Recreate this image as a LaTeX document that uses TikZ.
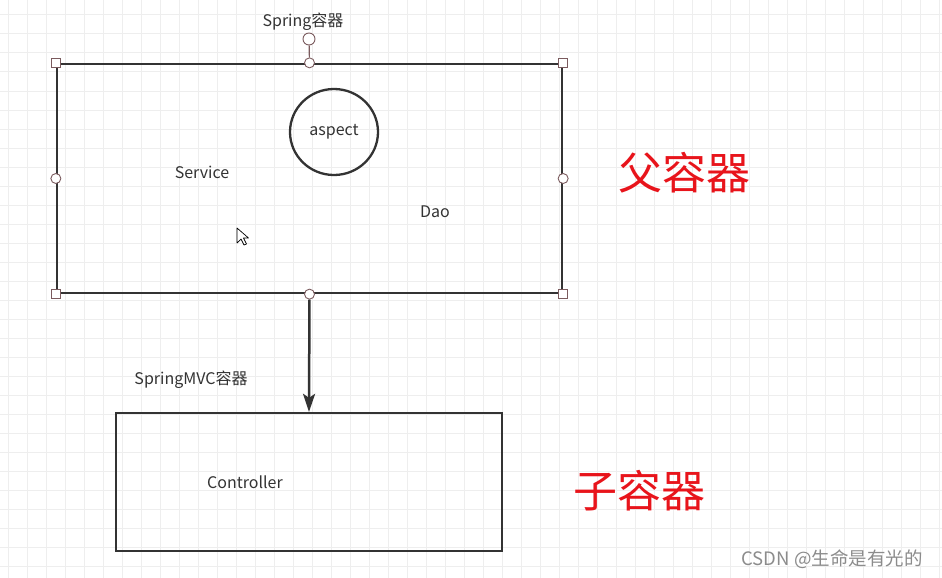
\documentclass[tikz,border=0pt]{standalone}
\usepackage{fontspec}
\setmainfont{Noto Sans CJK SC}
\usetikzlibrary{arrows.meta, shapes.geometric}

\definecolor{gridgray}{HTML}{EEEEEE}
\definecolor{boxline}{HTML}{333333}
\definecolor{handle}{HTML}{7B5B5E}
\definecolor{bigred}{HTML}{E8141B}
\definecolor{markgray}{HTML}{8C8C8C}

\tikzset{
  box/.style={draw=boxline, line width=2.3, fill=none, inner sep=0pt},
  handlesq/.style={draw=handle, fill=white, minimum size=9.5, inner sep=0pt, line width=0.9},
  handlecirc/.style={circle, draw=handle, fill=white, minimum size=10, inner sep=0pt, line width=0.9},
  lbl/.style={text=boxline, font=\fontsize{16}{19}\selectfont},
  bigtxt/.style={text=bigred, font=\fontsize{44}{47}\selectfont},
}

\begin{document}
\begin{tikzpicture}[x=1pt, y=-1pt]
\useasboundingbox[fill=white] (0,0) rectangle (942,578);
% background grid
\foreach \gx in {8,27,...,942} \draw[gridgray, line width=1] (\gx,0) -- (\gx,578);
\foreach \gy in {15,34,...,578} \draw[gridgray, line width=1] (0,\gy) -- (942,\gy);

% parent container
\node[box, minimum width=505, minimum height=229] (spring) at (309.5,178.5) {};
\node[lbl] (springlbl) at (303,22) {Spring容器};
\node[ellipse, draw=boxline, line width=2.3, minimum width=88, minimum height=86, lbl] (aspect) at (334,132) {aspect};
\node[lbl] (service) at (202,172) {Service};
\node[lbl] (dao) at (435,212) {Dao};

% child container
\node[box, minimum width=386, minimum height=138] (mvc) at (309,482) {};
\node[lbl] (mvclbl) at (191,380) {SpringMVC容器};
\node[lbl] (controller) at (245,482) {Controller};

% selection handles
\node[handlecirc, minimum size=12] (rot) at (309,39) {};
\node[handlecirc] (ntop) at (spring.north) {};
\draw[handle, line width=1.2] (rot) -- (ntop);
\node[handlesq] (hnw) at (spring.north west) {};
\node[handlesq] (hne) at (spring.north east) {};
\node[handlesq] (hsw) at (spring.south west) {};
\node[handlesq] (hse) at (spring.south east) {};
\node[handlecirc] (hw) at (spring.west) {};
\node[handlecirc] (he) at (spring.east) {};
\node[handlecirc] (nbot) at (spring.south) {};

% arrow
\draw[boxline, line width=2.5, -{Stealth[length=18, width=12, inset=4]}] (nbot) -- (mvc.north);

% cursor
\draw[black, fill=white, line width=0.7, line join=round] (237,228) -- (237,243) -- (241,239) -- (244,245) -- (246.5,244) -- (243.5,238) -- (248.5,238) -- cycle;

% big labels
\node[bigtxt] (parent) at (684,173) {父容器};
\node[bigtxt] (child) at (639,491) {子容器};

\node[text=markgray, font=\fontsize{18.5}{21}\selectfont] (mark) at (832,559) {CSDN @生命是有光的};
\end{tikzpicture}
\end{document}
